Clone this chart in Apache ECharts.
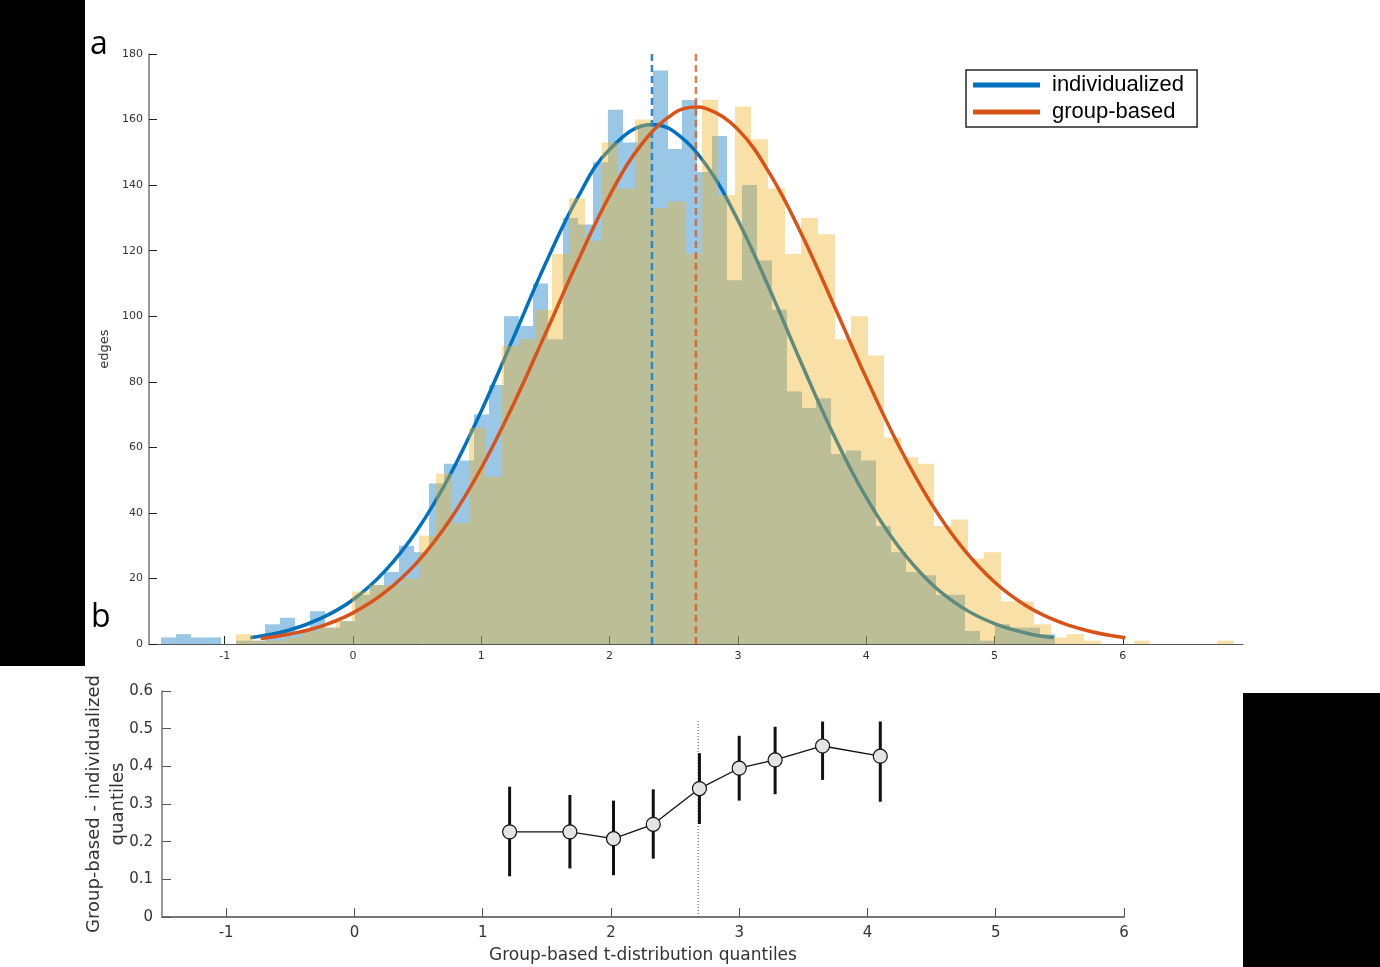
<!DOCTYPE html>
<html><head><meta charset="utf-8">
<script src="https://cdn.jsdelivr.net/npm/echarts@6/dist/echarts.min.js"></script>
<style>html,body{margin:0;padding:0;background:#fff}#c{width:1380px;height:967px}</style>
</head><body><div id="c"></div>
<script>
// ---------- data ----------
const blueCounts = [2,3,2,2,0,1,1,6,8,4,10,5,7,15,18,22,30,28,49,55,56,70,79,100,97,110,93,130,128,147,
                    163,153,158,175,151,166,144,155,111,140,117,102,77,72,75,58,59,56,36,28,22,21,15,15,4,1,6,5,5,3];
const orangeCounts = [3,1,1,2,4,5,7,16,18,18,20,33,52,37,66,51,91,93,102,119,136,123,153,139,160,133,135,119,166,137,
                      164,154,139,119,130,125,93,100,88,63,57,55,36,38,26,28,13,13,6,2,3,1,0,0,1,0,0,0,0,1];
const blueBinStart = -1.496, blueBinWidth = 0.1161;
const orangeBinStart = -0.912, orangeBinWidth = 0.1296;

const blueFit = [[-0.8,1.9],[-0.5,4.2],[-0.25,7.8],[0,13.5],[0.25,22.3],[0.5,34.7],[0.75,51.1],[1,71.1],[1.25,93.4],
  [1.5,116.0],[1.75,136.1],[2,150.9],[2.33,158.5],[2.5,156.4],[2.75,146.3],[3,129.3],[3.25,108.0],[3.5,85.2],
  [3.75,63.5],[4,44.7],[4.25,29.8],[4.5,18.7],[4.75,11.1],[5,6.2],[5.25,3.3],[5.46,1.9]];
const orangeFit = [[-0.72,1.7],[-0.5,3.0],[-0.25,5.4],[0,9.5],[0.25,15.8],[0.5,24.9],[0.75,37.5],[1,53.7],[1.25,73.1],
  [1.5,94.7],[1.75,116.6],[2,136.8],[2.25,152.5],[2.5,161.9],[2.673,163.8],[2.75,163.4],[3,157.0],[3.25,143.4],
  [3.5,124.7],[3.75,103.2],[4,81.2],[4.25,60.8],[4.5,43.3],[4.75,29.4],[5,18.9],[5.25,11.6],[5.5,6.8],[5.75,3.8],[6.02,1.9]];
const blueMean = 2.33, orangeMean = 2.673;

const quantX    = [1.21, 1.68, 2.02, 2.33, 2.69, 3.00, 3.28, 3.65, 4.10];
const quantDiff = [0.226,0.226,0.208,0.246,0.341,0.395,0.417,0.454,0.427];
const errLow    = [0.108,0.129,0.111,0.155,0.247,0.309,0.326,0.364,0.306];
const errHigh   = [0.346,0.324,0.309,0.339,0.435,0.481,0.505,0.519,0.519];
const refLineX = 2.68, refLineTop = 0.52;

const xTicks = [-1,0,1,2,3,4,5,6];
const seriesNames = ['individualized','group-based'];
const panelLabels = ['a','b'];
const yNameTop = 'edges';
const yNameBottom = 'Group-based - individualized\nquantiles';
const xNameBottom = 'Group-based t-distribution quantiles';

// ---------- build ----------
const blueHist = blueCounts.map((c,i)=>[blueBinStart+i*blueBinWidth, blueBinStart+(i+1)*blueBinWidth, c]);
const orangeHist = orangeCounts.map((c,i)=>[orangeBinStart+i*orangeBinWidth, orangeBinStart+(i+1)*orangeBinWidth, c]);
const quantPts = quantX.map((x,i)=>[x, quantDiff[i]]);
const errData = quantX.map((x,i)=>[x, errLow[i], errHigh[i]]);

function histRender(fill){
  return function(params, api){
    const p0 = api.coord([api.value(0), api.value(2)]);
    const p1 = api.coord([api.value(1), 0]);
    const x0 = Math.round(p0[0]), x1 = Math.round(p1[0]);
    return {type:'rect', shape:{x:x0, y:p0[1], width:x1-x0, height:p1[1]-p0[1]}, style:{fill:fill}};
  };
}

const BLUE = 'rgb(0,114,189)', ORANGE = 'rgb(217,83,25)';
const F = 'DejaVu Sans';

const chart = echarts.init(document.getElementById('c'), null, {renderer:'canvas'});
chart.setOption({
  animation:false,
  backgroundColor:'#fff',
  grid:[
    {left:149, right:137, top:54, bottom:323, containLabel:false, outerBoundsMode:'none'},
    {left:162, right:256, top:691, bottom:50, containLabel:false, outerBoundsMode:'none'}
  ],
  legend:{
    orient:'vertical', left:966, top:70, padding:[4,13,4,7], itemWidth:67, itemHeight:5, itemGap:5,
    icon:'rect', borderColor:'#262626', borderWidth:1.5, backgroundColor:'#fff',
    textStyle:{fontSize:22, fontFamily:'Liberation Sans', color:'#000', padding:[0,0,0,7]},
    data:seriesNames
  },
  xAxis:[
    {type:'value', gridIndex:0, min:-1.59, max:6.937,
     axisLine:{show:true, onZero:false, lineStyle:{color:'#555', width:1}},
     axisTick:{show:true, inside:true, length:8, customValues:xTicks, lineStyle:{color:'#222'}},
     axisLabel:{customValues:xTicks, fontSize:11, color:'#333', margin:7, fontFamily:F},
     splitLine:{show:false}},
    {type:'value', gridIndex:1, min:-1.5, max:6,
     name:xNameBottom, nameLocation:'middle', nameGap:30, nameMoveOverlap:false,
     nameTextStyle:{fontSize:17, color:'#333', fontFamily:F},
     axisLine:{show:true, onZero:false, lineStyle:{color:'#777', width:2}},
     axisTick:{show:true, inside:true, length:9, customValues:xTicks, lineStyle:{color:'#555'}},
     axisLabel:{customValues:xTicks, fontSize:15, color:'#333', margin:9, fontFamily:F},
     splitLine:{show:false}}
  ],
  yAxis:[
    {type:'value', gridIndex:0, min:0, max:180, interval:20,
     name:yNameTop, nameLocation:'middle', nameGap:38, nameRotate:90,
     nameTextStyle:{fontSize:13, color:'#333', fontFamily:F},
     axisLine:{show:true, onZero:false, lineStyle:{color:'#777', width:1.5}},
     axisTick:{show:true, inside:true, length:8, lineStyle:{color:'#222'}},
     axisLabel:{fontSize:11, color:'#333', margin:6, fontFamily:F},
     splitLine:{show:false}},
    {type:'value', gridIndex:1, min:0, max:0.6, interval:0.1,
     name:yNameBottom, nameLocation:'middle', nameGap:32, nameRotate:90, nameMoveOverlap:false,
     nameTextStyle:{fontSize:18, color:'#333', fontFamily:F, lineHeight:24},
     axisLine:{show:true, onZero:false, lineStyle:{color:'#777', width:1.5}},
     axisTick:{show:true, inside:true, length:9, lineStyle:{color:'#555'}},
     axisLabel:{fontSize:15, color:'#333', margin:9, fontFamily:F},
     splitLine:{show:false}}
  ],
  series:[
    {type:'custom', name:'blueHist', xAxisIndex:0, yAxisIndex:0, z:1, silent:true,
     renderItem:histRender('rgba(0,114,189,0.4)'), encode:{x:[0,1], y:2}, data:blueHist},
    {type:'line', name:seriesNames[0], xAxisIndex:0, yAxisIndex:0, z:2, symbol:'none', smooth:0.4,
     itemStyle:{color:BLUE}, lineStyle:{color:BLUE, width:3.5}, data:blueFit},
    {type:'custom', name:'orangeHist', xAxisIndex:0, yAxisIndex:0, z:3, silent:true,
     renderItem:histRender('rgba(237,177,32,0.4)'), encode:{x:[0,1], y:2}, data:orangeHist},
    {type:'line', name:'blueMean', xAxisIndex:0, yAxisIndex:0, z:4, symbol:'none', silent:true,
     lineStyle:{color:'rgb(50,135,195)', width:2.5, type:[7,4]}, data:[[blueMean,0],[blueMean,180]]},
    {type:'line', name:seriesNames[1], xAxisIndex:0, yAxisIndex:0, z:4, symbol:'none', smooth:0.4,
     itemStyle:{color:ORANGE}, lineStyle:{color:ORANGE, width:3.5}, data:orangeFit},
    {type:'line', name:'orangeMean', xAxisIndex:0, yAxisIndex:0, z:4, symbol:'none', silent:true,
     lineStyle:{color:'rgba(217,83,25,0.75)', width:2.5, type:[7,4]}, data:[[orangeMean,0],[orangeMean,180]]},
    // bottom panel
    {type:'line', name:'ref', xAxisIndex:1, yAxisIndex:1, z:2, symbol:'none', silent:true,
     lineStyle:{color:'#444', width:1, type:[1,2]}, data:[[refLineX,0],[refLineX,refLineTop]]},
    {type:'custom', name:'err', xAxisIndex:1, yAxisIndex:1, z:3, silent:true,
     renderItem:function(params, api){
       const a = api.coord([api.value(0), api.value(1)]);
       const b = api.coord([api.value(0), api.value(2)]);
       return {type:'line', shape:{x1:a[0], y1:a[1], x2:b[0], y2:b[1]}, style:{stroke:'#111', lineWidth:3}};
     }, encode:{x:0, y:[1,2]}, data:errData},
    {type:'line', name:'quant', xAxisIndex:1, yAxisIndex:1, z:4, symbol:'circle', symbolSize:14,
     itemStyle:{color:'#e4e4e4', borderColor:'#111', borderWidth:1.2},
     lineStyle:{color:'#111', width:1.3}, data:quantPts}
  ],
  graphic:[
    {type:'rect', left:0, top:0, shape:{width:85, height:666}, style:{fill:'#000'}, z:100},
    {type:'rect', left:1243, top:693, shape:{width:137, height:274}, style:{fill:'#000'}, z:100},
    {type:'text', left:90, top:29, style:{text:panelLabels[0], font:'32px "Open Sans"', fill:'#000'}, z:100},
    {type:'text', left:91, top:602, style:{text:panelLabels[1], font:'32px "Open Sans"', fill:'#000'}, z:100}
  ]
});
</script></body></html>
